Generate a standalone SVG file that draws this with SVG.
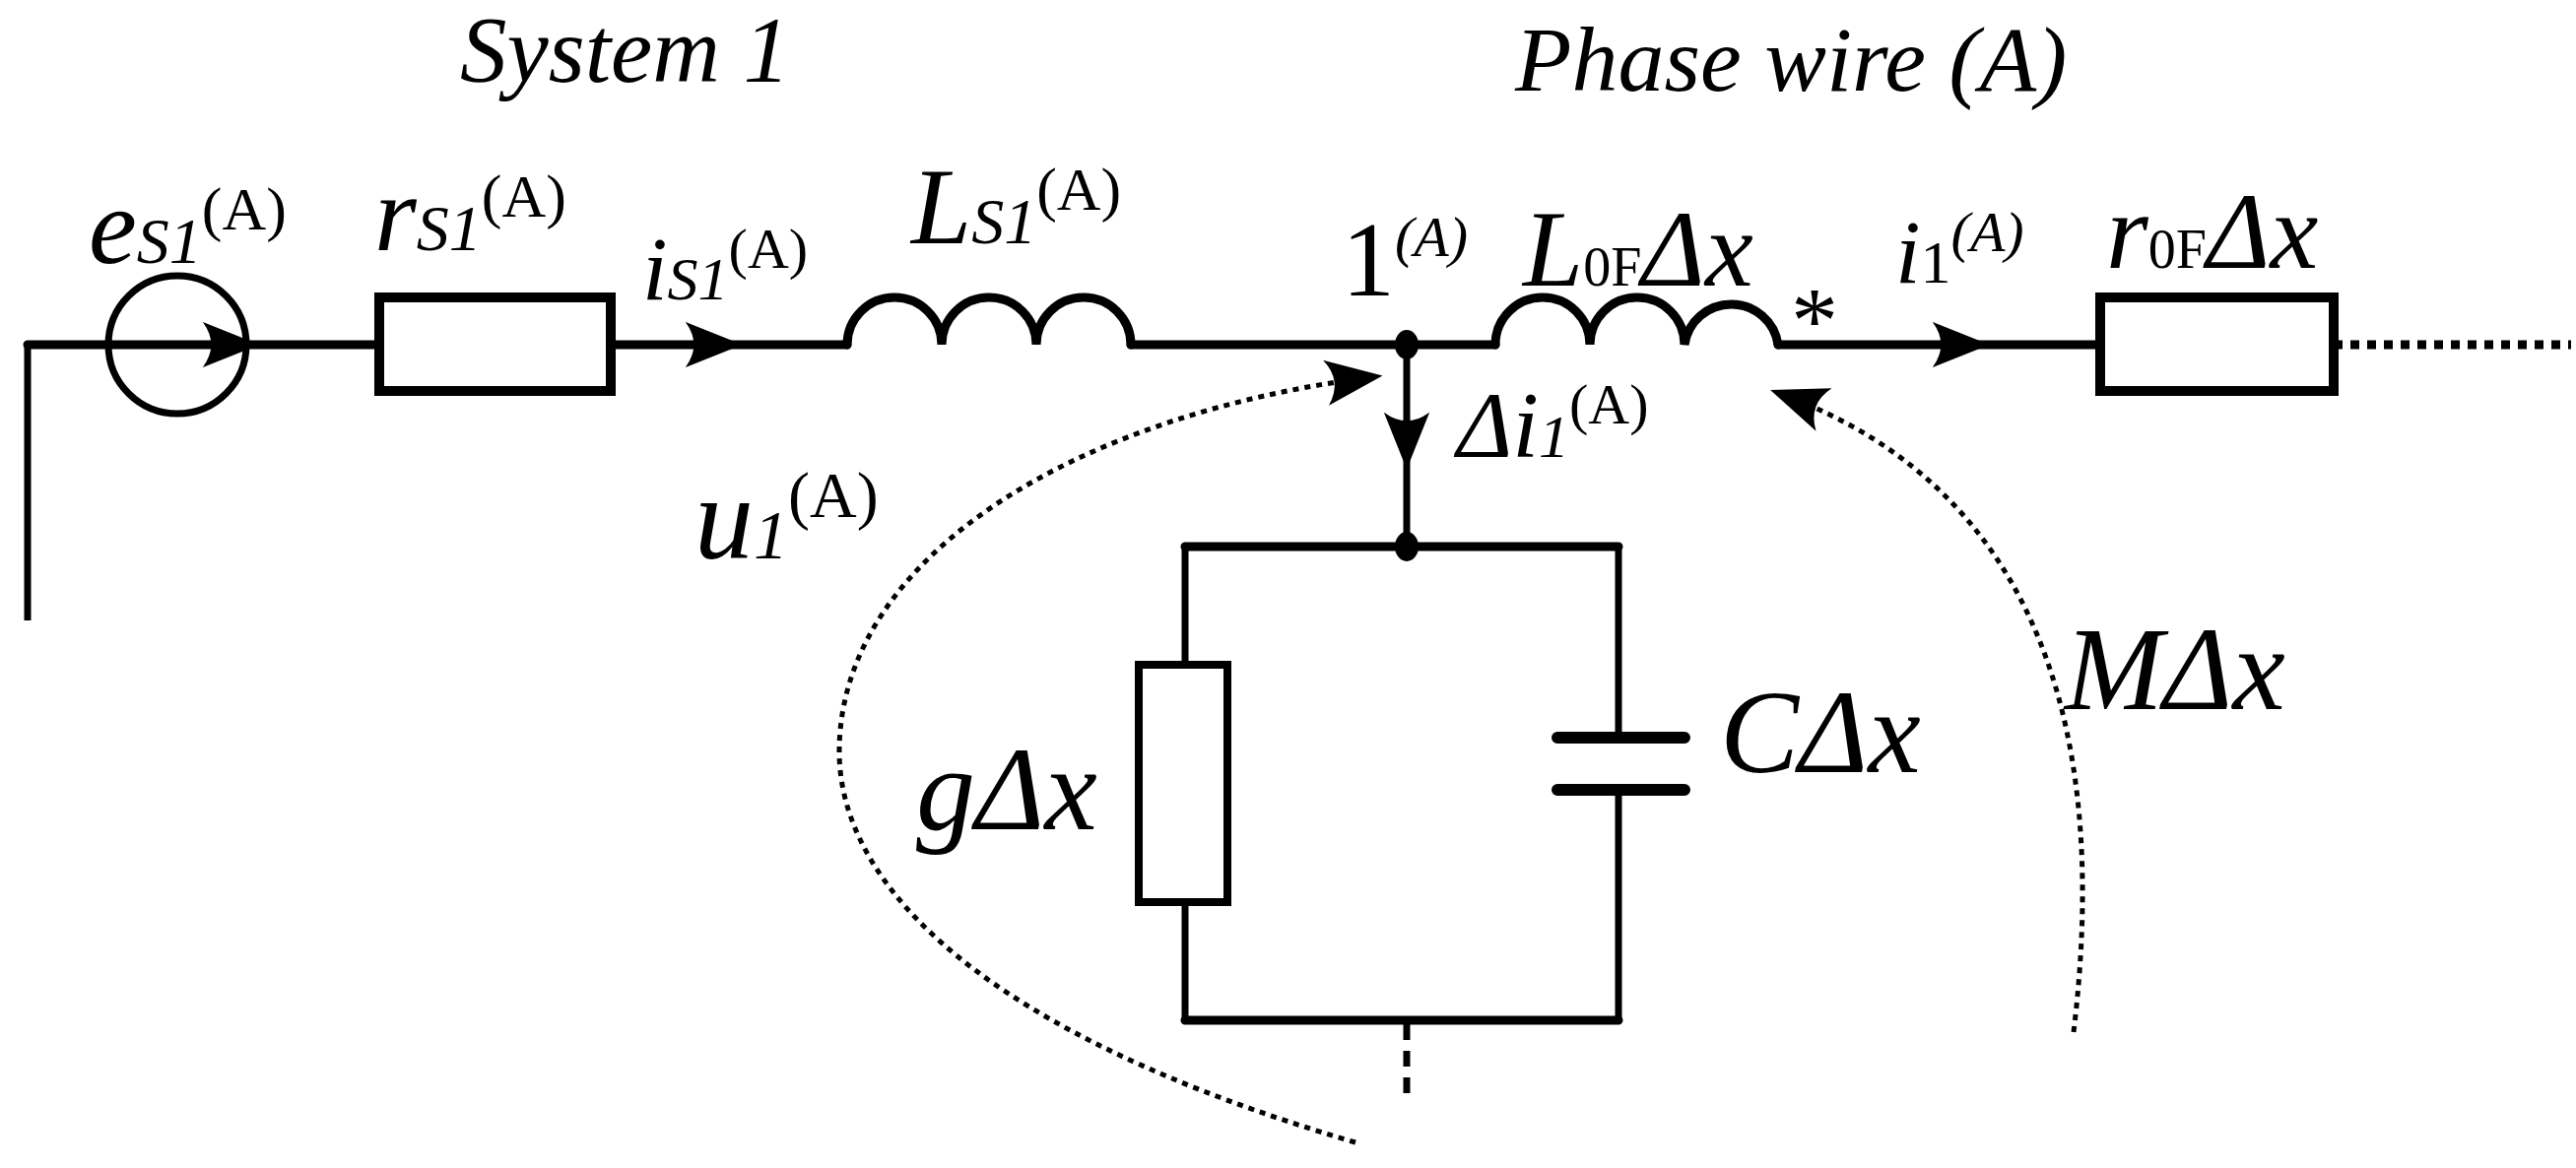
<svg xmlns="http://www.w3.org/2000/svg" width="2615" height="1186" viewBox="0 0 2615 1186">
<style>
.w{stroke:#000;stroke-width:9;fill:none;stroke-linecap:round}
.t{stroke:#000;stroke-width:7;fill:none}
.r{stroke:#000;stroke-width:10;fill:#fff}
.dot{stroke:#000;stroke-width:5;fill:none;stroke-dasharray:6 6}
.txt{font-family:"Liberation Serif",serif;font-style:italic;fill:#000}
.up{font-style:normal}
</style>
<defs>
<marker id="ahb" viewBox="0 0 20 20" refX="16" refY="10" markerWidth="58" markerHeight="58" markerUnits="userSpaceOnUse" orient="auto"><path d="M0,2 L20,10 L0,18 Q6,10 0,2Z" fill="#000"/></marker>
</defs>
<g id="connectors">
<path class="t" d="M28,630 V350"/>
<path class="w" d="M28,350 H385 M620,350 H860 M1148,350 H1518 M1805,350 H2132"/>
<path class="dot" d="M2369,350 H2610" style="stroke-width:9;stroke-dasharray:9 8"/>
<path class="t" d="M1428,350 V555"/>
<path class="t" d="M1203,555 V675 M1203,916 V1036 M1643,1036 V802 M1643,749 V555"/>
<path class="w" d="M1203,555 H1643 M1203,1036 H1643"/>
<path class="dot" d="M1428,1040 V1120" style="stroke-width:7;stroke-dasharray:16 11"/>
<path d="M200,350 H252" stroke="none" marker-end="url(#ahb)"/>
<path d="M680,350 H742" stroke="none" marker-end="url(#ahb)"/>
<path d="M1950,350 H2008" stroke="none" marker-end="url(#ahb)"/>
<path d="M1428,400 V465" stroke="none" marker-end="url(#ahb)"/>
<path class="dot" d="M1376,1160 C1000,1050 850,900 852,760 C855,560 1100,420 1392,383" marker-end="url(#ahb)"/>
<path class="dot" d="M2105,1048 C2140,760 2080,500 1808,400" marker-end="url(#ahb)"/>
</g>
<g id="source"><circle cx="180" cy="350" r="70" class="t"/></g>
<g id="rS1"><rect x="385" y="302" width="235" height="95" class="r"/></g>
<g id="LS1"><path class="w" d="M860,350 A48,48 0 0 1 956,350 A48,48 0 0 1 1052,350 A48,48 0 0 1 1148,350"/></g>
<g id="node1"><ellipse cx="1428" cy="350" rx="12" ry="15"/></g>
<g id="L0F"><path class="w" d="M1518,350 A48,48 0 0 1 1614,350 A48,48 0 0 1 1710,350 A48,48 0 0 1 1805,350"/></g>
<g id="r0F"><rect x="2132" y="302" width="237" height="95" class="r"/></g>
<g id="node2"><ellipse cx="1428" cy="555" rx="12" ry="15"/></g>
<g id="g"><rect x="1156" y="675" width="90" height="241" class="r" style="stroke-width:8"/></g>
<g id="C"><path d="M1581,749 H1710 M1581,802 H1710" stroke="#000" stroke-width="12" stroke-linecap="round"/></g>
<g id="labels" class="txt">
<text x="467" y="83" font-size="95">System 1</text>
<text x="1538" y="92" font-size="94">Phase wire (A)</text>
<text x="90" y="267" font-size="110">e<tspan font-size="66">S1</tspan><tspan class="up" font-size="62" dy="-34">(A)</tspan></text>
<text x="380" y="254" font-size="110">r<tspan font-size="66">S1</tspan><tspan class="up" font-size="62" dy="-34">(A)</tspan></text>
<text x="652" y="304" font-size="92">i<tspan font-size="62">S1</tspan><tspan class="up" font-size="58" dy="-32">(A)</tspan></text>
<text x="925" y="247" font-size="110">L<tspan font-size="66">S1</tspan><tspan class="up" font-size="62" dy="-34">(A)</tspan></text>
<text x="1362" y="300" font-size="108" class="up">1<tspan font-size="58" dy="-40" style="font-style:italic">(A)</tspan></text>
<text x="1546" y="290" font-size="110">L<tspan font-size="56" class="up">0F</tspan><tspan>Δx</tspan></text>
<text x="1818" y="358" font-size="96" class="up">*</text>
<text x="1924" y="287" font-size="92">i<tspan font-size="62" class="up">1</tspan><tspan font-size="58" dy="-32">(A)</tspan></text>
<text x="2138" y="272" font-size="110">r<tspan font-size="56" class="up">0F</tspan><tspan>Δx</tspan></text>
<text x="1479" y="464" font-size="96">Δi<tspan font-size="62">1</tspan><tspan class="up" font-size="58" dy="-34">(A)</tspan></text>
<text x="705" y="567" font-size="120">u<tspan font-size="70">1</tspan><tspan class="up" font-size="66" dy="-42">(A)</tspan></text>
<text x="930" y="842" font-size="120">gΔx</text>
<text x="1746" y="784" font-size="120">CΔx</text>
<text x="2096" y="720" font-size="120">MΔx</text>
</g>
</svg>
